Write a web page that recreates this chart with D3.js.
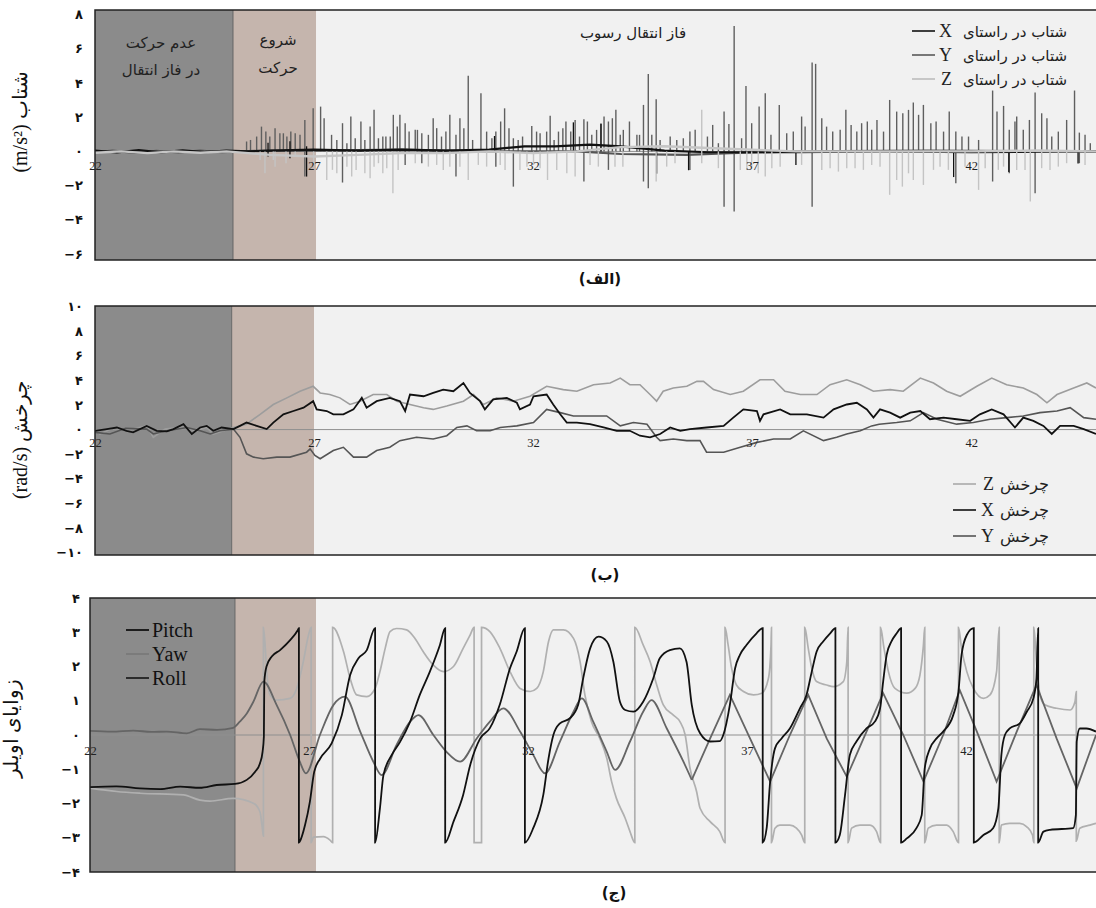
<!DOCTYPE html>
<html><head><meta charset="utf-8">
<script src="https://cdn.jsdelivr.net/npm/d3@7"></script>
<style>body{margin:0;background:#fff}svg{display:block}</style>
</head><body>
<svg id="c" width="1096" height="908"></svg>
<script>
// ---------------- DATA ----------------
const xTickValues = [22, 27, 32, 37, 42];
const accYTicks = [-6, -4, -2, 0, 2, 4, 6, 8];
const gyroYTicks = [-10, -8, -6, -4, -2, 0, 2, 4, 6, 8, 10];
const eulerYTicks = [-4, -3, -2, -1, 0, 1, 2, 3, 4];

// phase starts (s): rest, start of motion, sediment transport
const accPhases = [22, 25.15, 27.05];
const gyroPhases = [22, 25.12, 27.0];
const eulerPhases = [22, 25.31, 27.16];
const phaseNames = ["عدم حرکت|در فاز انتقال", "شروع|حرکت", "فاز انتقال رسوب"];

const accLegend = ["X", "Y", "Z"];
const gyroLegend = ["Z", "X", "Y"];
const eulerLegend = ["Pitch", "Yaw", "Roll"];

// acceleration baselines [t, value]
const accBaseX = [[22,0.05],[22.5,-0.05],[23,0.08],[23.5,-0.05],[24,0.06],[24.5,-0.04],[25,0.05],[25.5,0],[26,0.05],[27,0.1],[28,0.05],[29,0.1],[30,0.05],[31,0.1],[31.8,0.3],[32.5,0.3],[33.3,0.4],[34,0.3],[35,0.05],[36,-0.05],[38,-0.05],[40,0],[42,-0.05],[44,0],[45,0]];
const accBaseY = [[22,-0.05],[22.4,0.05],[22.9,-0.08],[23.4,0.04],[23.9,-0.06],[24.4,0.05],[24.9,-0.05],[25.3,0],[26,0.05],[27,0.05],[29,0.1],[31,0],[33,0],[34,-0.15],[35.5,-0.2],[36.5,-0.1],[38,0],[41,0.05],[45,0]];
const accBaseZ = [[22,-0.08],[22.6,0],[23.2,-0.1],[23.8,0],[24.4,-0.08],[25,0],[25.5,-0.1],[26,-0.2],[27,-0.3],[28,-0.2],[29,-0.1],[30,-0.1],[31,0],[32,-0.1],[33,0],[34,0.25],[35,0.3],[36,0.2],[37,0.1],[38,0],[40,0],[42,0],[43.5,0.05],[45,0]];

// acceleration spikes [t, high, low]
const accSpikesY = [[25.46,0.58,0],[25.55,0.67,0],[25.69,0.87,0],[25.80,1.45,0],[25.90,1.16,0],[25.99,0.87,0],[26.11,1.36,0],[26.22,1.06,0],[26.30,1.06,0],[26.38,0.87,0],[26.47,1.16,0],[26.57,1.06,0],[26.68,0.97,0],
[26.79,1.84,-1.47],[26.98,2.52,0],[27.15,2.62,0],[27.23,1.94,0],[27.40,0.97,0],[27.52,0.67,0],[27.65,1.65,-1.82],[27.75,0.48,0],[27.84,2.04,0],[27.94,0.77,0],[28.07,1.75,0],[28.16,0.67,0],[28.28,1.45,0],[28.37,2.43,0],[28.47,0.77,0],[28.57,0.87,0],[28.64,0.87,0],[28.74,0.87,0],[28.81,2.14,0],[28.90,1.45,0],[28.96,2.14,0],[29.08,1.65,-0.79],[29.17,1.16,0],[29.31,1.26,0],[29.36,1.26,0],[29.46,1.06,-0.69],[29.61,0.97,0],[29.72,1.94,0],[29.80,1.36,0],[29.91,0.87,0],[30.01,1.16,0],[30.10,2.14,0],[30.24,0.97,-1.47],[30.33,1.94,0],[30.42,1.36,0],[30.52,4.42,0],[30.62,0.67,0],[30.81,3.40,0],[30.94,1.16,0],[31.06,0.77,0],[31.15,1.16,-0.89],[31.26,1.75,0],[31.35,2.52,0],[31.45,1.36,0],[31.55,0.77,-2.06],[31.66,0.67,0],[31.76,0.87,0],[31.97,1.49,0],[32.08,1.16,0],[32.16,1.06,0],[32.31,1.16,0],[32.39,2.08,0],[32.48,0.67,0],[32.58,1.16,0],[32.68,1.36,0],[32.75,1.75,0],[32.86,1.16,0],[32.96,1.84,0],[33.06,0.87,0],[33.16,1.88,-1.76],[33.24,1.75,0],[33.34,0.97,0],[33.45,1.26,0],[33.55,1.65,0],[33.62,2.04,0],[33.72,1.75,-1.08],[33.81,1.94,0],[33.89,2.43,0],[33.99,0.97,0],[34.06,1.26,0],[34.20,1.75,0],[34.37,0.97,0],[34.43,0.97,0],[34.52,2.72,-1.76],[34.63,4.53,-2.15],[34.71,0.97,0],[34.81,3.05,0],[34.90,0.67,0],[35.13,0.87,0],[35.28,0.67,0],[35.43,0.77,0],[35.58,1.16,-1.08],[35.70,1.26,0],
[35.98,0.87,0],[36.10,1.55,0],[36.23,0.48,0],[36.36,2.33,-3.23],[36.47,1.61,0],[36.59,7.34,-3.52],[36.76,0.77,0],[36.86,3.83,0],[36.99,1.65,0],[37.16,2.62,0],[37.30,3.40,0],[37.43,0.97,0],[37.62,2.72,0],[37.79,1.06,0],[37.94,1.16,0],[38.13,2.04,0],[38.21,1.45,0],[38.37,5.20,-3.23],[38.45,5.12,0],[38.59,1.94,0],[38.70,1.45,0],[38.84,1.16,0],[39.01,1.26,0],[39.14,2.43,0],[39.26,1.55,0],[39.39,1.16,0],[39.50,1.65,0],[39.63,1.75,0],[39.73,1.26,0],[39.85,1.84,0],[40.0,1.16,0],[40.14,3.01,0],[40.30,2.33,0],[40.44,2.23,0],[40.57,2.43,0],[40.68,2.86,0],[40.80,2.14,0],[40.91,2.72,0],[41.08,1.65,0],[41.20,1.75,0],[41.37,1.16,0],[41.50,2.33,0],[41.65,1.16,-1.86],[41.79,0.87,0],[41.94,0.87,0],[42.17,0.67,0],[42.49,3.56,-1.76],[42.59,2.33,0],[42.74,2.66,0],[42.87,1.26,-1.28],[43.0,1.75,0],[43.04,2.04,0],[43.19,1.26,0],[43.33,1.84,0],[43.46,3.44,-2.45],[43.61,2.23,0],[43.73,1.94,0],[43.84,0.87,0],[43.99,1.16,0],[44.18,1.84,0],[44.36,3.56,0],[44.47,1.10,-0.69],[44.60,0.97,0],[44.72,0.48,0]];
const accSpikesX = [[25.95,0.5,-0.3],[26.45,0.6,-0.4],[26.83,0.3,-1.47],[31.12,0.9,0],[32.92,1.7,0],[33.55,1.6,0],[34.82,0,-1.3],[35.55,0,-1.1],[38.0,0,-0.8],[41.6,0,-1.5],[42.86,0,-1.2],[44.44,0,-0.7]];
const accSpikesZ = [[25.77,0,-0.5],[25.88,0,-1.28],[26.07,0,-0.5],[26.11,0,-0.89],[26.36,0,-0.69],[26.57,0,-0.3],[26.99,0,-0.69],[27.29,0,-1.67],
[27.42,0,-1.08],[27.52,0,-1.28],[27.75,0,-0.89],[27.86,0,-1.47],[27.96,0,-1.08],[28.16,0,-1.28],[28.28,0,-1.57],[28.37,0,-0.89],[28.47,0,-0.69],[28.57,0,-1.28],[28.66,0,-0.98],[28.80,0,-2.45],[28.92,0,-1.08],[29.31,0,-0.69],[29.61,0,-0.89],[29.80,0,-0.79],[29.95,0,-1.08],[30.10,0,-0.89],[30.33,0,-0.89],[30.52,0,-1.67],[30.75,0,-0.79],[30.94,0,-0.89],[31.25,0,-0.79],[31.36,0,-1.08],[31.70,0,-1.08],[31.86,0,-0.89],[32.01,0,-0.79],[32.16,0,-0.98],[32.33,0,-1.67],[32.54,0,-1.08],[32.77,0,-1.28],[32.96,0,-1.47],[33.30,0,-0.79],[33.49,0,-0.89],[33.87,0,-0.89],[34.05,0,-0.89],[34.81,0,-1.76],[35.05,0,-0.89],[35.24,0,-0.69],
[35.85,2.43,-0.69],[36.23,0,-0.98],[36.73,0,-1.08],[36.88,0,-1.08],[36.99,0,-0.89],[37.14,0,-1.28],[37.30,0,-1.47],[37.45,0,-0.98],[37.64,0,-0.89],[38.13,0,-0.79],[38.59,0,-1.08],[38.78,0,-0.98],[38.97,0,-1.18],[39.16,0,-0.98],[39.35,0,-0.98],[39.54,0,-1.08],[39.73,0,-0.79],[39.92,0,-0.89],[40.14,0,-2.54],[40.30,0,-1.67],[40.43,0,-2.06],[40.57,0,-1.28],[40.68,0,-1.67],[40.91,0,-1.96],[41.14,0,-1.08],[41.29,0,-0.89],[41.48,0,-1.08],[41.86,0,-0.89],[42.17,0,-2.25],[42.32,0,-0.98],[42.62,0,-1.08],[42.74,0,-0.89],[43.04,0,-1.08],[43.23,0,-1.08],[43.35,0,-2.93],[43.61,0,-0.98],[43.80,0,-1.08],[43.99,0,-0.89],[44.18,0,-0.69],[44.60,0,-0.79]];

// angular velocity [t, rad/s]
const gyroX = [[22.0,-0.1],[22.27,0.04],[22.5,0.17],[22.72,-0.1],[22.87,-0.23],[23.18,0.3],[23.41,-0.1],[23.64,-0.15],[23.79,0.04],[24.02,0.44],[24.21,-0.36],[24.4,0.17],[24.55,0.3],[24.7,-0.1],[24.89,0.17],[25.16,0.04],[25.31,0.3],[25.46,0.57],[25.69,0.3],[25.92,0.04],[26.07,0.57],[26.3,1.24],[26.53,1.51],[26.76,1.78],[26.98,2.31],[27.06,1.64],[27.29,1.51],[27.44,1.24],[27.67,1.24],[27.9,1.64],[28.09,2.58],[28.2,1.78],[28.43,2.31],[28.73,2.58],[28.96,2.31],[29.08,1.51],[29.19,2.85],[29.5,2.71],[29.72,2.98],[29.95,3.25],[30.18,3.12],[30.41,3.79],[30.56,2.98],[30.79,2.31],[30.9,1.64],[31.09,2.45],[31.4,2.58],[31.63,2.18],[31.7,1.64],[31.93,2.04],[32.01,2.71],[32.31,2.85],[32.46,2.04],[32.62,1.24],[32.77,0.57],[33.0,0.57],[33.3,0.44],[33.61,0.17],[33.91,-0.1],[34.21,-0.1],[34.44,-0.5],[34.67,-0.63],[34.9,-0.36],[35.13,0.17],[35.36,-0.1],[35.58,0.04],[35.96,0.17],[36.35,0.3],[36.57,0.97],[36.8,1.64],[37.11,1.51],[37.18,0.71],[37.26,1.24],[37.64,1.64],[37.87,1.24],[38.25,1.24],[38.63,0.97],[38.86,1.64],[39.16,2.04],[39.39,2.18],[39.62,1.64],[39.77,0.97],[39.92,1.64],[40.15,1.38],[40.38,0.97],[40.61,1.38],[40.84,1.51],[41.06,0.84],[41.37,0.97],[41.67,0.84],[41.98,0.71],[42.2,1.24],[42.47,1.64],[42.74,1.24],[43.0,0.17],[43.19,0.97],[43.42,0.71],[43.65,0.3],[43.84,-0.36],[44.03,0.3],[44.34,0.3],[44.57,0.04],[44.85,-0.36]];
const gyroY = [[22.0,-0.23],[22.34,-0.36],[22.7,0.1],[23.18,0.04],[23.33,-0.36],[23.64,-0.1],[24.1,0.17],[24.4,-0.1],[24.63,-0.36],[24.85,-0.1],[25.16,0.04],[25.31,-0.63],[25.46,-1.97],[25.62,-2.24],[25.84,-2.37],[26.15,-2.24],[26.45,-2.24],[26.83,-1.84],[26.91,-1.57],[27.02,-2.1],[27.14,-2.37],[27.44,-1.7],[27.67,-1.44],[27.9,-2.24],[28.2,-2.24],[28.43,-1.7],[28.73,-1.44],[28.96,-0.9],[29.34,-0.63],[29.72,-0.77],[30.03,-0.5],[30.26,0.17],[30.49,0.3],[30.71,-0.1],[31.02,-0.1],[31.25,0.17],[31.63,0.3],[32.01,0.57],[32.31,1.64],[32.62,1.38],[32.92,1.11],[33.3,1.11],[33.68,1.11],[33.99,0.3],[34.29,0.57],[34.6,0.44],[34.82,-0.63],[34.9,-0.9],[35.2,-0.77],[35.51,-0.9],[35.81,-0.9],[35.96,-1.84],[36.35,-1.84],[36.73,-1.44],[37.11,-1.04],[37.49,-0.77],[37.87,-0.77],[38.17,-0.1],[38.63,-0.9],[38.93,-0.63],[39.16,-0.36],[39.47,-0.1],[39.73,0.3],[39.9,0.44],[40.3,0.57],[40.61,0.71],[40.91,1.38],[41.22,0.84],[41.67,0.44],[42.05,0.57],[42.43,0.84],[42.81,0.97],[43.19,1.11],[43.57,1.38],[43.96,1.51],[44.26,1.78],[44.57,0.97],[44.85,0.84]];
const gyroZ = [[22.0,0.04],[22.11,-0.36],[22.4,0.1],[22.8,0],[23.18,0.3],[23.33,-0.63],[23.6,0.04],[24.0,0.2],[24.3,-0.1],[24.55,0.17],[24.7,-0.36],[25.16,0.17],[25.46,0.44],[25.77,1.24],[26.07,2.04],[26.38,2.58],[26.68,3.12],[26.98,3.52],[27.14,2.98],[27.36,2.85],[27.59,2.58],[27.82,2.04],[28.05,2.31],[28.35,2.85],[28.66,2.85],[28.89,2.31],[29.19,2.04],[29.5,1.78],[29.72,1.64],[30.03,1.91],[30.41,2.31],[30.64,2.85],[30.87,2.04],[31.17,2.58],[31.55,2.31],[31.93,2.71],[32.31,3.52],[32.69,3.25],[33.0,3.12],[33.38,3.65],[33.76,3.79],[33.99,4.19],[34.21,3.65],[34.44,3.65],[34.67,2.85],[34.82,2.31],[34.97,3.12],[35.2,3.38],[35.51,3.52],[35.74,3.92],[35.89,3.92],[36.12,3.25],[36.5,2.85],[36.8,3.12],[37.18,4.05],[37.49,4.05],[37.75,3.12],[38.1,2.85],[38.48,2.85],[38.78,3.65],[39.16,4.05],[39.47,3.65],[39.77,3.12],[40.15,3.25],[40.45,3.12],[40.84,4.19],[41.14,3.79],[41.44,3.12],[41.75,2.71],[42.13,3.52],[42.47,4.19],[42.81,3.65],[43.19,3.38],[43.5,2.85],[43.73,2.18],[43.96,2.85],[44.34,3.38],[44.64,3.79],[44.85,3.38]];

// Euler angles [t, rad]
const eulerPitch = [[22.0,-1.52],[22.6,-1.5],[23.14,-1.56],[23.6,-1.58],[24.06,-1.51],[24.51,-1.54],[24.89,-1.46],[25.31,-1.43],[25.58,-1.31],[25.77,-1.07],[25.88,-0.83],[25.94,-0.49],[25.97,-0.05],[25.98,1.56],[26.03,2.0],[26.15,2.29],[26.34,2.48],[26.57,2.77],[26.74,3.05],[26.77,3.12],[26.77,-3.14],[26.79,-3.11],[26.91,-2.63],[27.02,-1.95],[27.12,-1.07],[27.25,-0.7],[27.52,-0.24],[27.75,0.58],[27.94,1.75],[28.13,2.24],[28.32,2.48],[28.51,3.12],[28.51,-3.14],[28.62,-2.14],[28.70,-1.17],[28.89,-0.58],[29.08,-0.2],[29.31,0.39],[29.53,1.17],[29.76,1.85],[29.99,2.63],[30.11,3.12],[30.11,-3.14],[30.30,-2.53],[30.52,-1.75],[30.68,-0.88],[30.91,-0.1],[31.13,0.2],[31.36,0.9],[31.59,1.95],[31.74,2.43],[31.93,3.12],[31.93,-3.14],[32.12,-2.72],[32.35,-1.75],[32.47,-0.68],[32.58,0],[32.73,0.34],[32.96,0.49],[33.15,0.9],[33.26,1.65],[33.42,2.53],[33.61,2.87],[33.80,2.73],[33.95,2.14],[34.10,0.97],[34.22,0.73],[34.41,0.68],[34.63,0.97],[34.86,1.65],[35.01,2.24],[35.24,2.48],[35.47,2.53],[35.62,2.14],[35.74,0.88],[35.93,0.05],[36.16,-0.19],[36.38,-0.18],[36.46,0],[36.61,0.88],[36.73,1.95],[36.84,2.34],[36.99,2.63],[37.22,2.97],[37.36,3.12],[37.36,-3.14],[37.45,-2.72],[37.53,-1.36],[37.64,-0.39],[37.79,-0.1],[37.98,0.19],[38.21,0.78],[38.36,1.17],[38.48,1.85],[38.59,2.43],[38.74,2.73],[38.90,2.97],[39.02,3.12],[39.02,-3.14],[39.12,-2.92],[39.24,-1.75],[39.35,-0.58],[39.50,-0.19],[39.73,0.19],[39.92,0.39],[40.04,0.78],[40.11,1.56],[40.19,2.34],[40.30,2.73],[40.42,2.97],[40.52,3.12],[40.52,-3.14],[40.65,-3.02],[40.87,-2.72],[40.99,-2.34],[41.06,-0.97],[41.18,-0.39],[41.33,-0.1],[41.48,0.1],[41.71,0.58],[41.83,1.27],[41.90,2.34],[42.02,2.92],[42.18,3.12],[42.18,-3.14],[42.40,-2.92],[42.62,-2.72],[42.74,-2.14],[42.81,-0.58],[42.89,0],[43.0,0.19],[43.23,0.34],[43.39,0.68],[43.54,1.07],[43.61,1.65],[43.65,3.12],[43.65,-3.14],[43.77,-2.82],[43.92,-2.77],[44.45,-2.72],[44.51,-2.34],[44.53,-0.19],[44.60,0.19],[44.75,0.19],[44.97,0.1]];
const eulerYaw = [[22.0,-1.55],[22.61,-1.65],[23.14,-1.70],[24.13,-1.75],[24.51,-1.90],[24.74,-1.93],[25.27,-1.85],[25.73,-1.99],[25.88,-2.24],[25.94,-2.77],[25.96,-2.95],[25.96,3.14],[26.0,2.6],[26.03,1.95],[26.11,1.17],[26.26,1.02],[26.57,1.07],[26.72,1.36],[26.87,2.14],[26.99,2.92],[27.05,3.14],[27.05,-3.14],[27.1,-2.98],[27.33,-2.97],[27.48,-3.07],[27.54,-3.14],[27.54,3.14],[27.79,2.43],[27.94,1.65],[28.09,1.17],[28.32,1.12],[28.51,1.36],[28.62,1.85],[28.74,2.53],[28.85,3.02],[29.0,3.11],[29.23,3.07],[29.42,2.82],[29.61,2.43],[29.84,2.04],[30.07,1.85],[30.30,2.0],[30.52,2.53],[30.68,2.92],[30.77,3.14],[30.77,-3.14],[30.94,-3.14],[30.94,3.14],[31.13,3.02],[31.36,2.53],[31.59,1.85],[31.82,1.36],[32.05,1.27],[32.2,1.36],[32.35,1.85],[32.47,2.73],[32.58,3.07],[32.81,3.07],[33.04,2.82],[33.19,2.14],[33.30,1.17],[33.45,0.39],[33.64,-0.1],[33.80,-0.68],[33.91,-1.36],[34.02,-1.85],[34.22,-2.43],[34.33,-2.82],[34.44,-3.14],[34.44,3.14],[34.63,2.63],[34.79,2.14],[34.94,1.46],[35.09,0.88],[35.32,0.58],[35.47,0.39],[35.59,0],[35.70,-0.97],[35.85,-1.65],[35.93,-2.14],[36.16,-2.53],[36.38,-2.82],[36.50,-3.14],[36.50,3.14],[36.57,2.63],[36.65,1.95],[36.76,1.46],[36.92,1.27],[37.15,1.17],[37.34,1.22],[37.49,1.65],[37.55,2.63],[37.56,3.14],[37.56,-3.14],[37.64,-2.72],[37.75,-2.63],[37.98,-2.63],[38.13,-2.72],[38.25,-2.92],[38.32,-3.14],[38.32,3.14],[38.40,2.53],[38.48,1.95],[38.59,1.56],[38.82,1.46],[38.97,1.41],[39.20,1.56],[39.28,2.14],[39.31,3.14],[39.31,-3.14],[39.39,-2.72],[39.58,-2.63],[39.81,-2.63],[39.96,-2.82],[40.05,-3.14],[40.05,3.14],[40.13,2.53],[40.23,1.85],[40.38,1.36],[40.65,1.22],[40.84,1.36],[40.95,1.75],[41.03,2.63],[41.06,3.14],[41.06,-3.14],[41.14,-2.72],[41.33,-2.63],[41.56,-2.63],[41.71,-2.82],[41.83,-3.14],[41.83,3.14],[41.90,2.53],[42.02,1.85],[42.17,1.36],[42.40,1.07],[42.55,1.17],[42.70,1.85],[42.76,3.14],[42.76,-3.14],[42.81,-2.63],[43.0,-2.58],[43.23,-2.58],[43.39,-2.68],[43.52,-2.92],[43.55,-3.14],[43.55,3.14],[43.61,2.14],[43.69,1.17],[43.80,0.88],[44.07,0.78],[44.38,0.73],[44.49,0.97],[44.52,1.27],[44.52,-3.1],[44.60,-2.72],[44.83,-2.63],[44.97,-2.58]];
const eulerRoll = [[22.0,0.12],[22.5,0.1],[22.99,0.13],[23.4,0.09],[23.75,0.1],[24.21,0.05],[24.51,0.17],[24.9,0.15],[25.27,0.21],[25.42,0.39],[25.58,0.63],[25.73,0.97],[25.96,1.56],[26.26,0.88],[26.57,0],[26.79,-0.78],[26.93,-1.12],[27.25,0],[27.56,0.88],[27.82,1.12],[28.17,0.1],[28.47,-0.78],[28.66,-1.17],[29.0,-0.29],[29.31,0.39],[29.50,0.58],[29.84,0],[30.14,-0.49],[30.45,-0.78],[30.83,-0.1],[31.13,0.39],[31.44,0.78],[31.82,0.1],[32.12,-0.58],[32.39,-1.12],[32.73,-0.19],[33.04,0.68],[33.23,1.07],[33.49,0.39],[33.80,-0.49],[33.99,-1.02],[34.33,-0.19],[34.63,0.68],[34.82,1.02],[35.17,0.19],[35.55,-0.78],[35.74,-1.31],[36.16,-0.1],[36.61,1.17],[37.07,-0.1],[37.53,-1.36],[37.98,0],[38.40,1.17],[38.82,-0.1],[39.28,-1.22],[39.73,0.1],[40.11,1.22],[40.57,0],[41.03,-1.36],[41.48,0],[41.86,1.31],[42.25,0.1],[42.70,-1.36],[43.16,0.1],[43.61,1.46],[44.07,-0.1],[44.53,-1.56],[44.97,0]];

// ---------------- DRAWING ----------------
const W = 1096;
const svg = d3.select('#c');
const phaseColors = ['#8b8b8b', '#c5b5ad', '#f1f1f1'];
const faDigits = '۰۱۲۳۴۵۶۷۸۹';
const toFa = n => (n < 0 ? '\u2212' : '') + String(Math.abs(n)).replace(/\d/g, d => faDigits[+d]);
const SERIF = "'Liberation Serif','Times New Roman',serif";
const SANS = "'DejaVu Sans',sans-serif";
const ROLL_SHARP_FROM = 35.74;

function makePanel(cfg) {
  const x = d3.scaleLinear().domain(cfg.xDomain).range([cfg.left, W]);
  const y = d3.scaleLinear().domain(cfg.yDomain).range([cfg.bottom, cfg.top]);
  const g = svg.append('g');
  const clipId = 'clip-' + cfg.id;
  svg.append('clipPath').attr('id', clipId).append('rect')
    .attr('x', cfg.left).attr('y', cfg.top).attr('width', W - cfg.left).attr('height', cfg.bottom - cfg.top);
  const plot = g.append('g').attr('clip-path', `url(#${clipId})`);
  const bounds = cfg.phases.concat([cfg.xDomain[1] + 1]);
  plot.selectAll('rect.phase').data(cfg.phases).join('rect').attr('class', 'phase')
    .attr('x', d => x(d)).attr('width', (d, i) => x(bounds[i + 1]) - x(d))
    .attr('y', cfg.top).attr('height', cfg.bottom - cfg.top)
    .attr('fill', (d, i) => phaseColors[i]);
  plot.append('line').attr('x1', x(cfg.phases[1])).attr('x2', x(cfg.phases[1]))
    .attr('y1', cfg.top).attr('y2', cfg.bottom).attr('stroke', '#666').attr('stroke-width', 1);
  plot.append('line').attr('x1', cfg.left).attr('x2', W).attr('y1', y(0)).attr('y2', y(0))
    .attr('stroke', '#8f8f8f').attr('stroke-width', 1);
  const ya = g.append('g').attr('transform', `translate(${cfg.left},0)`)
    .call(d3.axisLeft(y).tickValues(cfg.yTicks).tickFormat(toFa).tickSize(0).tickPadding(cfg.yPad));
  ya.select('.domain').remove();
  ya.attr('font-family', SANS).attr('font-size', 13).attr('font-weight', 'bold');
  ya.selectAll('text').attr('fill', '#111');
  return { x, y, g, plot, cfg };
}

function addXLabels(p) {
  const xa = p.g.append('g').attr('transform', `translate(0,${p.y(0)})`)
    .call(d3.axisBottom(p.x).tickValues(xTickValues).tickFormat(d => d).tickSize(0).tickPadding(p.cfg.xPad));
  xa.select('.domain').remove();
  xa.attr('font-family', SERIF).attr('font-size', 12.5);
  xa.selectAll('text').attr('fill', '#222');
}
function addBorder(p) {
  p.g.append('rect').attr('x', p.cfg.left).attr('y', p.cfg.top)
    .attr('width', W - p.cfg.left + 10).attr('height', p.cfg.bottom - p.cfg.top)
    .attr('fill', 'none').attr('stroke', '#222').attr('stroke-width', 1.5);
}
function yTitle(xc, yc, txt) {
  svg.append('text').attr('transform', `translate(${xc},${yc}) rotate(-90)`)
    .attr('text-anchor', 'middle').attr('font-family', SERIF).attr('font-size', 20)
    .attr('fill', '#111').text(txt);
}
function caption(xc, yb, txt) {
  svg.append('text').attr('x', xc).attr('y', yb).attr('text-anchor', 'middle')
    .attr('font-family', SANS).attr('font-size', 15).attr('font-weight', 'bold')
    .attr('fill', '#111').text(txt);
}

// ===== Panel (الف) acceleration =====
const pA = makePanel({ id: 'acc', left: 95, top: 10, bottom: 260, xDomain: [22, 44.85], yDomain: [-6.35, 8.27],
  yTicks: accYTicks, phases: accPhases, yPad: 12, xPad: 10 });
const lineA = d3.line().x(d => pA.x(d[0])).y(d => pA.y(d[1]));
function spikes(p, data, color, w) {
  p.plot.append('g').selectAll('line').data(data).join('line')
    .attr('x1', d => p.x(d[0])).attr('x2', d => p.x(d[0]))
    .attr('y1', d => p.y(d[2])).attr('y2', d => p.y(d[1]))
    .attr('stroke', color).attr('stroke-width', w);
}
spikes(pA, accSpikesY, '#5f5f5f', 1.4);
pA.plot.append('path').datum(accBaseY).attr('d', lineA).attr('fill', 'none').attr('stroke', '#555').attr('stroke-width', 2.2);
spikes(pA, accSpikesX, '#111', 1.3);
pA.plot.append('path').datum(accBaseX).attr('d', lineA).attr('fill', 'none').attr('stroke', '#111').attr('stroke-width', 2.2);
spikes(pA, accSpikesZ, '#c4c4c4', 1.4);
pA.plot.append('path').datum(accBaseZ).attr('d', lineA).attr('fill', 'none').attr('stroke', '#c6c6c6').attr('stroke-width', 2.4);
addXLabels(pA);
const phaseLabelPos = [[161, 48, 75], [278, 45, 73], [633, 38]];
phaseNames.forEach((nm, i) => {
  nm.split('|').forEach((t, j) => {
    pA.g.append('text').attr('x', phaseLabelPos[i][0]).attr('y', phaseLabelPos[i][1 + j])
      .attr('text-anchor', 'middle').attr('font-family', SANS).attr('font-size', 15)
      .attr('fill', '#222').text(t);
  });
});
const accColors = ['#111', '#5a5a5a', '#bdbdbd'];
accLegend.forEach((k, i) => {
  const yc = 31 + i * 24;
  pA.g.append('line').attr('x1', 912).attr('x2', 935).attr('y1', yc).attr('y2', yc)
    .attr('stroke', accColors[i]).attr('stroke-width', 1.6);
  pA.g.append('text').attr('x', 952).attr('y', yc + 6).attr('text-anchor', 'end')
    .attr('font-family', SERIF).attr('font-size', 18).attr('fill', '#222').text(k);
  pA.g.append('text').attr('x', 1067).attr('y', yc + 6).attr('text-anchor', 'end')
    .attr('font-family', SANS).attr('font-size', 15).attr('fill', '#222').text('شتاب در راستای');
});
addBorder(pA);
yTitle(27, 122, '(m/s²) شتاب');
caption(600, 284, '(الف)');

// ===== Panel (ب) angular velocity =====
const pB = makePanel({ id: 'gyro', left: 95, top: 306, bottom: 555, xDomain: [22, 44.85], yDomain: [-10.2, 10.05],
  yTicks: gyroYTicks, phases: gyroPhases, yPad: 12, xPad: 9 });
const lineB = d3.line().x(d => pB.x(d[0])).y(d => pB.y(d[1]));
pB.plot.append('path').datum(gyroZ).attr('d', lineB).attr('fill', 'none').attr('stroke', '#9d9d9d').attr('stroke-width', 1.6);
pB.plot.append('path').datum(gyroY).attr('d', lineB).attr('fill', 'none').attr('stroke', '#555').attr('stroke-width', 1.6);
pB.plot.append('path').datum(gyroX).attr('d', lineB).attr('fill', 'none').attr('stroke', '#111').attr('stroke-width', 1.8);
addXLabels(pB);
const gyroColors = ['#aaa', '#111', '#555'];
gyroLegend.forEach((k, i) => {
  const yc = 484 + i * 26;
  pB.g.append('line').attr('x1', 953).attr('x2', 976).attr('y1', yc).attr('y2', yc)
    .attr('stroke', gyroColors[i]).attr('stroke-width', 1.6);
  pB.g.append('text').attr('x', 994).attr('y', yc + 6).attr('text-anchor', 'end')
    .attr('font-family', SERIF).attr('font-size', 18).attr('fill', '#222').text(k);
  pB.g.append('text').attr('x', 1049).attr('y', yc + 6).attr('text-anchor', 'end')
    .attr('font-family', SANS).attr('font-size', 16).attr('fill', '#222').text('چرخش');
});
addBorder(pB);
yTitle(27, 440, '(rad/s) چرخش');
caption(605, 580, '(ب)');

// ===== Panel (ج) Euler angles =====
const pC = makePanel({ id: 'euler', left: 90, top: 598, bottom: 872, xDomain: [22, 44.97], yDomain: [-4, 4],
  yTicks: eulerYTicks, phases: eulerPhases, yPad: 10, xPad: 11 });
const lineC = d3.line().x(d => pC.x(d[0])).y(d => pC.y(d[1])).curve(d3.curveMonotoneX);
const lineCsharp = d3.line().x(d => pC.x(d[0])).y(d => pC.y(d[1]));
pC.plot.append('path').datum(eulerYaw).attr('d', lineC).attr('fill', 'none').attr('stroke', '#b0b0b0').attr('stroke-width', 1.7);
pC.plot.append('path').datum(eulerRoll.filter(d => d[0] <= ROLL_SHARP_FROM)).attr('d', lineC).attr('fill', 'none').attr('stroke', '#656565').attr('stroke-width', 1.8);
pC.plot.append('path').datum(eulerRoll.filter(d => d[0] >= ROLL_SHARP_FROM)).attr('d', lineCsharp).attr('fill', 'none').attr('stroke', '#656565').attr('stroke-width', 1.8);
pC.plot.append('path').datum(eulerPitch).attr('d', lineC).attr('fill', 'none').attr('stroke', '#111').attr('stroke-width', 1.8);
addXLabels(pC);
const eulerColors = ['#111', '#7a7a7a', '#222'];
eulerLegend.forEach((k, i) => {
  const yc = 630 + i * 24;
  pC.g.append('line').attr('x1', 126).attr('x2', 149).attr('y1', yc).attr('y2', yc)
    .attr('stroke', eulerColors[i]).attr('stroke-width', 1.8);
  pC.g.append('text').attr('x', 152).attr('y', yc + 7).attr('font-family', SERIF)
    .attr('font-size', 20).attr('fill', '#111').text(k);
});
addBorder(pC);
yTitle(18, 728, 'زوایای اویلر');
caption(614, 898, '(ج)');
</script>
</body></html>
